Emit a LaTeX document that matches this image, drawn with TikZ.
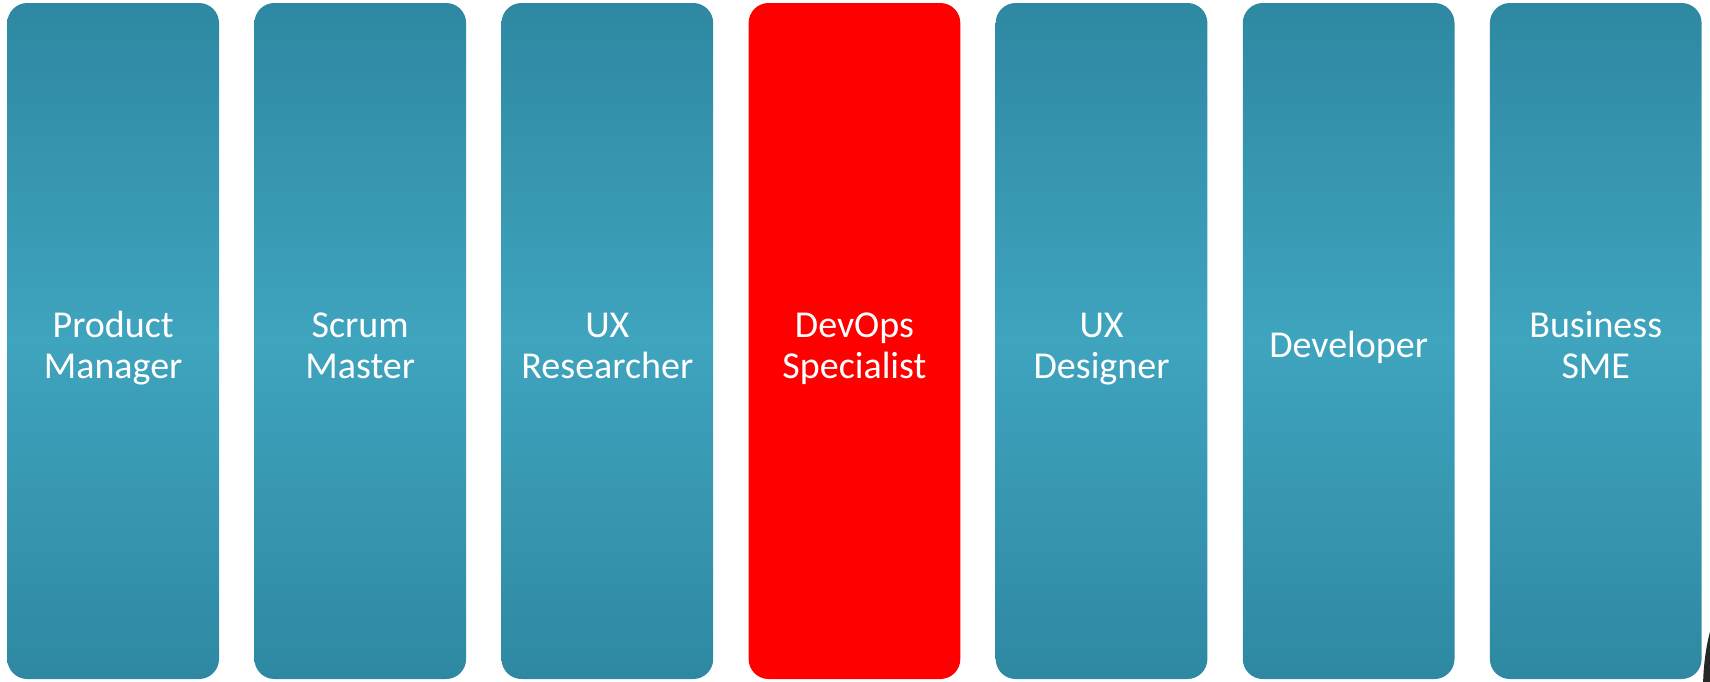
\documentclass[tikz,border=0pt]{standalone}
\usepackage{fontspec}
\setmainfont{Carlito}
\definecolor{tealdark}{HTML}{2E88A2}
\definecolor{teallight}{HTML}{3FA4BE}
\definecolor{devred}{HTML}{FF0000}
\definecolor{blob}{HTML}{262626}
\tikzset{
  role/.style={rounded corners=20pt, minimum width=211.7pt, minimum height=676pt,
    inner sep=0pt,
    top color=tealdark, bottom color=tealdark, middle color=teallight},
  hot/.style={rounded corners=20pt, minimum width=211.7pt, minimum height=676pt,
    inner sep=0pt, fill=devred},
  rolename/.style={text=white, align=center, inner sep=0pt,
    font=\fontsize{38pt}{41.5pt}\selectfont, text depth=0pt, text height=65.5pt},
  onename/.style={rolename, text height=24pt}
}
\begin{document}
\begin{tikzpicture}[x=1pt,y=-1pt]
\useasboundingbox (0,0) rectangle (1710,681);
\def\py{341}
\node[role] (pm) at (113.15,\py) {};
\node[role] (sm) at (360.25,\py) {};
\node[role] (uxr) at (607.35,\py) {};
\node[hot] (dev) at (854.45,\py) {};
\node[role] (uxd) at (1101.55,\py) {};
\node[role] (devl) at (1348.65,\py) {};
\node[role] (sme) at (1595.75,\py) {};
\node[rolename] (pm-t) at ([yshift=-4.8pt]pm.center) {Product\\Manager};
\node[rolename] (sm-t) at ([yshift=-4.8pt]sm.center) {Scrum\\Master};
\node[rolename] (uxr-t) at ([yshift=-4.8pt]uxr.center) {UX\\Researcher};
\node[rolename] (dev-t) at ([yshift=-4.8pt]dev.center) {DevOps\\Specialist};
\node[rolename] (uxd-t) at ([yshift=-4.8pt]uxd.center) {UX\\Designer};
\node[onename] (devl-t) at ([yshift=-4.8pt]devl.center) {Developer};
\node[rolename] (sme-t) at ([yshift=-4.8pt]sme.center) {Business\\SME};
\begin{scope}
\clip (0,0) rectangle (1710,681);
\fill[blob] (1742,690) ellipse [x radius=39, y radius=102];
\end{scope}
\end{tikzpicture}
\end{document}
